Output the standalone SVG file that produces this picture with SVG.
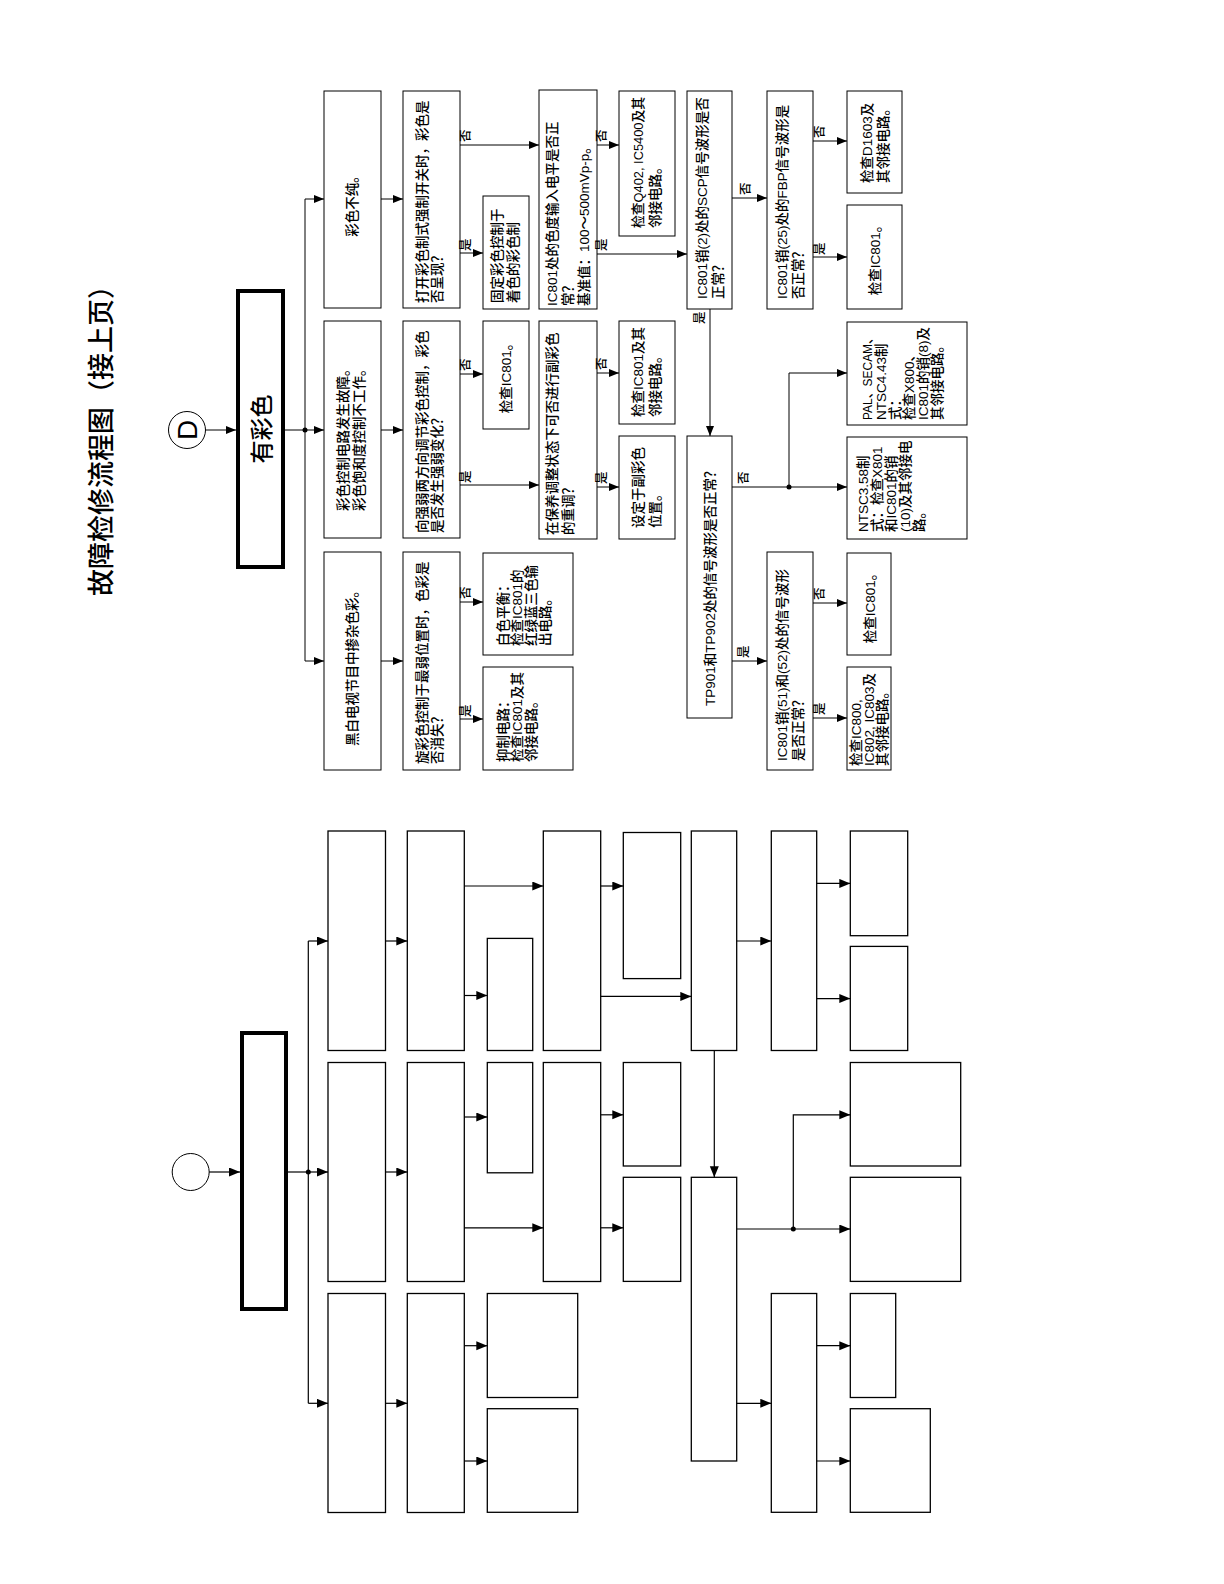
<svg xmlns="http://www.w3.org/2000/svg" width="1224" height="1584" viewBox="0 0 1224 1584">
<defs>
<marker id="ah" markerUnits="userSpaceOnUse" markerWidth="11" markerHeight="9" refX="10" refY="4" orient="auto"><path d="M0,0 L10,4 L0,8 z" fill="#000"/></marker>
<marker id="ah2" markerUnits="userSpaceOnUse" markerWidth="12" markerHeight="10" refX="11" refY="4.5" orient="auto"><path d="M0,0 L11,4.5 L0,9 z" fill="#000"/></marker>
</defs>
<style>
.b{fill:#fff;stroke:#000;stroke-width:1}
.bb{fill:#fff;stroke:#000;stroke-width:1.3}
.tk{fill:#fff;stroke:#000;stroke-width:4}
.t{font-family:"Liberation Sans","Noto Sans CJK SC",sans-serif;font-size:13.5px;font-weight:500;fill:#000}
.m{text-anchor:middle}
.l{font-family:"Liberation Sans","Noto Sans CJK SC",sans-serif;font-size:12.5px;font-weight:500;fill:#000}
.c{fill:none;stroke:#000;stroke-width:1}
.ca{fill:none;stroke:#000;stroke-width:1;marker-end:url(#ah)}
.c2{fill:none;stroke:#000;stroke-width:1.2}
.ca2{fill:none;stroke:#000;stroke-width:1.2;marker-end:url(#ah2)}
</style>
<rect width="1224" height="1584" fill="#fff"/>

<!-- title -->
<text id="title" transform="translate(111,434) rotate(-90)" text-anchor="middle" style="font-family:'Noto Sans CJK SC',sans-serif;font-size:27px;font-weight:500">故障检修流程图（接上页）</text>

<!-- ===== top flowchart nodes ===== -->
<g id="nD"><circle cx="187" cy="430" r="18.5" fill="#fff" stroke="#000" stroke-width="1"/><text transform="translate(197,430) rotate(-90)" text-anchor="middle" style="font-family:'Liberation Sans',sans-serif;font-size:28px">D</text></g>
<g id="nStart"><rect class="tk" x="238" y="291" width="45" height="276"/><text transform="translate(270,429) rotate(-90)" text-anchor="middle" style="font-family:'Noto Sans CJK SC',sans-serif;font-size:23px;font-weight:500">有彩色</text></g>

<g id="n1a"><rect class="b" x="324" y="91" width="57" height="217"/><text class="t m" transform="translate(357,203) rotate(-90)">彩色不纯。</text></g>
<g id="n1b"><rect class="b" x="324" y="321" width="57" height="217"/><text class="t" transform="translate(348,511) rotate(-90)"><tspan x="0">彩色控制电路发生故障。</tspan><tspan x="0" dy="16">彩色饱和度控制不工作。</tspan></text></g>
<g id="n1c"><rect class="b" x="324" y="552" width="57" height="218"/><text class="t m" transform="translate(357,665) rotate(-90)">黑白电视节目中掺杂色彩。</text></g>

<g id="n2a"><rect class="b" x="403" y="91" width="57" height="217"/><text class="t" transform="translate(427,303) rotate(-90)"><tspan x="0">打开彩色制式强制开关时，彩色是</tspan><tspan x="0" dy="15">否呈现？</tspan></text></g>
<g id="n2b"><rect class="b" x="403" y="321" width="57" height="217"/><text class="t" transform="translate(427,533) rotate(-90)"><tspan x="0">向强弱两方向调节彩色控制，彩色</tspan><tspan x="0" dy="15">是否发生强弱变化？</tspan></text></g>
<g id="n2c"><rect class="b" x="403" y="552" width="57" height="218"/><text class="t" transform="translate(427,764) rotate(-90)"><tspan x="0">旋彩色控制于最弱位置时，色彩是</tspan><tspan x="0" dy="15">否消失？</tspan></text></g>

<g id="n3a"><rect class="b" x="483" y="196" width="46" height="113"/><text class="t" transform="translate(502,303) rotate(-90)"><tspan x="0">固定彩色控制于</tspan><tspan x="0" dy="16">着色的彩色制</tspan></text></g>
<g id="n3b"><rect class="b" x="483" y="321" width="46" height="108"/><text class="t m" transform="translate(511,375) rotate(-90)">检查IC801。</text></g>
<g id="n3c"><rect class="b" x="483" y="553" width="90" height="102"/><text class="t" transform="translate(508,646) rotate(-90)"><tspan x="0">白色平衡：</tspan><tspan x="0" dy="14">检查IC801的</tspan><tspan x="0" dy="14">红绿蓝三色输</tspan><tspan x="0" dy="14">出电路。</tspan></text></g>
<g id="n3d"><rect class="b" x="483" y="667" width="90" height="103"/><text class="t" transform="translate(508,762) rotate(-90)"><tspan x="0">抑制电路：</tspan><tspan x="0" dy="14">检查IC801及其</tspan><tspan x="0" dy="14">邻接电路。</tspan></text></g>

<g id="n4a"><rect class="b" x="539" y="90" width="58" height="219"/><text class="t" transform="translate(557,306) rotate(-90)"><tspan x="0">IC801处的色度输入电平是否正</tspan><tspan x="0" dy="16">常？</tspan><tspan x="0" dy="16">基准值：100～500mVp-p。</tspan></text></g>
<g id="n4b"><rect class="b" x="539" y="321" width="58" height="218"/><text class="t" transform="translate(557,535) rotate(-90)"><tspan x="0">在保养调整状态下可否进行副彩色</tspan><tspan x="0" dy="16">的重调？</tspan></text></g>

<g id="n5a"><rect class="b" x="619" y="91" width="56" height="145"/><text class="t" transform="translate(643,228) rotate(-90)"><tspan x="0" textLength="131" lengthAdjust="spacingAndGlyphs">检查Q402, IC5400及其</tspan><tspan x="0" dy="17">邻接电路。</tspan></text></g>
<g id="n5b"><rect class="b" x="619" y="321" width="56" height="103"/><text class="t" transform="translate(643,417) rotate(-90)"><tspan x="0">检查IC801及其</tspan><tspan x="0" dy="17">邻接电路。</tspan></text></g>
<g id="n5c"><rect class="b" x="619" y="436" width="56" height="103"/><text class="t" transform="translate(643,528) rotate(-90)"><tspan x="0">设定于副彩色</tspan><tspan x="0" dy="17">位置。</tspan></text></g>

<g id="n6a"><rect class="b" x="687" y="91" width="45" height="218"/><text class="t" transform="translate(707,299) rotate(-90)"><tspan x="0">IC801销(2)处的SCP信号波形是否</tspan><tspan x="0" dy="16">正常？</tspan></text></g>
<g id="n6b"><rect class="b" x="687" y="436" width="45" height="282"/><text class="t" transform="translate(715,706) rotate(-90)">TP901和TP902处的信号波形是否正常？</text></g>

<g id="n7a"><rect class="b" x="767" y="91" width="46" height="218"/><text class="t" transform="translate(787,299) rotate(-90)"><tspan x="0">IC801销(25)处的FBP信号波形是</tspan><tspan x="0" dy="16">否正常？</tspan></text></g>
<g id="n7b"><rect class="b" x="767" y="552" width="46" height="218"/><text class="t" transform="translate(787,761) rotate(-90)"><tspan x="0">IC801销(51)和(52)处的信号波形</tspan><tspan x="0" dy="16">是否正常？</tspan></text></g>

<g id="n8a"><rect class="b" x="847" y="91" width="55" height="102"/><text class="t" transform="translate(872,183) rotate(-90)"><tspan x="0">检查D1603及</tspan><tspan x="0" dy="16">其邻接电路。</tspan></text></g>
<g id="n8b"><rect class="b" x="847" y="205" width="55" height="104"/><text class="t m" transform="translate(880,257) rotate(-90)">检查IC801。</text></g>
<g id="n8c"><rect class="b" x="847" y="322" width="120" height="103"/><text class="t" transform="translate(872,420) rotate(-90)"><tspan x="0" textLength="88" lengthAdjust="spacingAndGlyphs">PAL、SECAM、</tspan><tspan x="0" dy="14">NTSC4.43制</tspan><tspan x="0" dy="14">式：</tspan><tspan x="0" dy="14">检查X800、</tspan><tspan x="0" dy="14" textLength="93" lengthAdjust="spacingAndGlyphs">IC801的销(8)及</tspan><tspan x="0" dy="14">其邻接电路。</tspan></text></g>
<g id="n8d"><rect class="b" x="847" y="437" width="120" height="102"/><text class="t" transform="translate(868,532) rotate(-90)"><tspan x="0">NTSC3.58制</tspan><tspan x="0" dy="14">式：检查X801</tspan><tspan x="0" dy="14">和IC801的销</tspan><tspan x="0" dy="14">(10)及其邻接电</tspan><tspan x="0" dy="14">路。</tspan></text></g>
<g id="n8e"><rect class="b" x="847" y="553" width="44" height="102"/><text class="t m" transform="translate(875,605) rotate(-90)">检查IC801。</text></g>
<g id="n8f"><rect class="b" x="847" y="667" width="44" height="103"/><text class="t" transform="translate(861,766) rotate(-90)"><tspan x="0">检查IC800,</tspan><tspan x="0" dy="13">IC802, IC803及</tspan><tspan x="0" dy="13">其邻接电路。</tspan></text></g>

<!-- ===== top connectors ===== -->
<g id="connectors-top">
<line class="ca" x1="205.5" y1="430" x2="236" y2="430"/>
<line class="c" x1="285" y1="430" x2="305" y2="430"/>
<circle cx="305" cy="430" r="2.5" fill="#000"/>
<line class="c" x1="305" y1="199" x2="305" y2="661"/>
<line class="ca" x1="305" y1="199" x2="324" y2="199"/>
<line class="ca" x1="305" y1="430" x2="324" y2="430"/>
<line class="ca" x1="305" y1="661" x2="324" y2="661"/>
<line class="ca" x1="381" y1="199" x2="403" y2="199"/>
<line class="ca" x1="381" y1="430" x2="403" y2="430"/>
<line class="ca" x1="381" y1="661" x2="403" y2="661"/>
<line class="ca" x1="460" y1="145" x2="539" y2="145"/>
<line class="ca" x1="460" y1="253" x2="483" y2="253"/>
<line class="ca" x1="460" y1="374" x2="483" y2="374"/>
<line class="ca" x1="460" y1="485" x2="539" y2="485"/>
<line class="ca" x1="460" y1="602" x2="483" y2="602"/>
<line class="ca" x1="460" y1="719" x2="483" y2="719"/>
<line class="ca" x1="597" y1="145" x2="619" y2="145"/>
<line class="ca" x1="597" y1="254" x2="687" y2="254"/>
<line class="ca" x1="597" y1="373" x2="619" y2="373"/>
<line class="ca" x1="597" y1="487" x2="619" y2="487"/>
<line class="ca" x1="732" y1="198" x2="767" y2="198"/>
<line class="ca" x1="710" y1="309" x2="710" y2="436"/>
<line class="ca" x1="732" y1="487" x2="847" y2="487"/>
<circle cx="789" cy="487" r="2.5" fill="#000"/>
<polyline class="ca" points="789,487 789,373 847,373"/>
<line class="ca" x1="732" y1="661" x2="767" y2="661"/>
<line class="ca" x1="813" y1="141" x2="847" y2="141"/>
<line class="ca" x1="813" y1="257" x2="847" y2="257"/>
<line class="ca" x1="813" y1="603" x2="847" y2="603"/>
<line class="ca" x1="813" y1="718" x2="847" y2="718"/>
<!-- yes/no labels -->
<text class="l" transform="translate(470,142) rotate(-90)">否</text>
<text class="l" transform="translate(470,251) rotate(-90)">是</text>
<text class="l" transform="translate(470,371) rotate(-90)">否</text>
<text class="l" transform="translate(470,483) rotate(-90)">是</text>
<text class="l" transform="translate(470,599) rotate(-90)">否</text>
<text class="l" transform="translate(470,717) rotate(-90)">是</text>
<text class="l" transform="translate(606,142) rotate(-90)">否</text>
<text class="l" transform="translate(606,251) rotate(-90)">是</text>
<text class="l" transform="translate(606,370) rotate(-90)">否</text>
<text class="l" transform="translate(606,484) rotate(-90)">是</text>
<text class="l" transform="translate(750,195) rotate(-90)">否</text>
<text class="l" transform="translate(704,324) rotate(-90)">是</text>
<text class="l" transform="translate(748,484) rotate(-90)">否</text>
<text class="l" transform="translate(748,658) rotate(-90)">是</text>
<text class="l" transform="translate(824,138) rotate(-90)">否</text>
<text class="l" transform="translate(824,255) rotate(-90)">是</text>
<text class="l" transform="translate(824,600) rotate(-90)">否</text>
<text class="l" transform="translate(824,715) rotate(-90)">是</text>
</g>

<!-- ===== bottom (blank) flowchart nodes ===== -->
<g id="bD"><circle cx="190.7" cy="1172" r="18.5" fill="#fff" stroke="#000" stroke-width="1"/></g>
<g id="bStart"><rect class="tk" x="242" y="1033" width="44" height="276"/></g>
<g id="b1a"><rect class="bb" x="328" y="831" width="57.5" height="219.5"/></g>
<g id="b1b"><rect class="bb" x="328" y="1062.5" width="57.5" height="219"/></g>
<g id="b1c"><rect class="bb" x="328" y="1293.5" width="57.5" height="219"/></g>
<g id="b2a"><rect class="bb" x="407.3" y="831" width="57" height="219.5"/></g>
<g id="b2b"><rect class="bb" x="407.3" y="1062.5" width="57" height="219"/></g>
<g id="b2c"><rect class="bb" x="407.3" y="1293.5" width="57" height="219"/></g>
<g id="b3a"><rect class="bb" x="487.3" y="938.4" width="45.4" height="112.1"/></g>
<g id="b3b"><rect class="bb" x="487.3" y="1062.5" width="45.4" height="110.3"/></g>
<g id="b3c"><rect class="bb" x="487.3" y="1293.5" width="90.4" height="104"/></g>
<g id="b3d"><rect class="bb" x="487.3" y="1408.7" width="90.4" height="103.6"/></g>
<g id="b4a"><rect class="bb" x="543.3" y="831" width="57.4" height="219.5"/></g>
<g id="b4b"><rect class="bb" x="543.3" y="1062.5" width="57.4" height="219"/></g>
<g id="b5a"><rect class="bb" x="623.3" y="832.5" width="57.4" height="146.1"/></g>
<g id="b5b"><rect class="bb" x="623.3" y="1062.5" width="57.4" height="103.5"/></g>
<g id="b5c"><rect class="bb" x="623.3" y="1177.3" width="57.4" height="104.1"/></g>
<g id="b6a"><rect class="bb" x="691.3" y="831" width="45.4" height="219.5"/></g>
<g id="b6b"><rect class="bb" x="691.3" y="1177.3" width="45.4" height="283.7"/></g>
<g id="b7a"><rect class="bb" x="771.3" y="831" width="45.4" height="219.5"/></g>
<g id="b7b"><rect class="bb" x="771.3" y="1293.5" width="45.4" height="218.8"/></g>
<g id="b8a"><rect class="bb" x="850.3" y="831" width="57.4" height="104.7"/></g>
<g id="b8b"><rect class="bb" x="850.3" y="946.4" width="57.4" height="104.1"/></g>
<g id="b8c"><rect class="bb" x="850.3" y="1062.5" width="110.4" height="103.5"/></g>
<g id="b8d"><rect class="bb" x="850.3" y="1177.3" width="110.4" height="104.1"/></g>
<g id="b8e"><rect class="bb" x="850.3" y="1293.5" width="45.4" height="104"/></g>
<g id="b8f"><rect class="bb" x="850.3" y="1408.7" width="80" height="103.6"/></g>

<!-- ===== bottom connectors ===== -->
<g id="connectors-bottom">
<line class="ca2" x1="209.2" y1="1172" x2="240" y2="1172"/>
<line class="c2" x1="288" y1="1172" x2="308.3" y2="1172"/>
<circle cx="308.3" cy="1172" r="2.5" fill="#000"/>
<line class="c2" x1="308.3" y1="941" x2="308.3" y2="1403.3"/>
<line class="ca2" x1="308.3" y1="941" x2="328" y2="941"/>
<line class="ca2" x1="308.3" y1="1172" x2="328" y2="1172"/>
<line class="ca2" x1="308.3" y1="1403.3" x2="328" y2="1403.3"/>
<line class="ca2" x1="385.5" y1="941" x2="407.3" y2="941"/>
<line class="ca2" x1="385.5" y1="1172" x2="407.3" y2="1172"/>
<line class="ca2" x1="385.5" y1="1403.3" x2="407.3" y2="1403.3"/>
<line class="ca2" x1="464.3" y1="886" x2="543.3" y2="886"/>
<line class="ca2" x1="464.3" y1="995.5" x2="487.3" y2="995.5"/>
<line class="ca2" x1="464.3" y1="1117" x2="487.3" y2="1117"/>
<line class="ca2" x1="464.3" y1="1227.8" x2="543.3" y2="1227.8"/>
<line class="ca2" x1="464.3" y1="1345.7" x2="487.3" y2="1345.7"/>
<line class="ca2" x1="464.3" y1="1461" x2="487.3" y2="1461"/>
<line class="ca2" x1="600.7" y1="886" x2="623.3" y2="886"/>
<line class="ca2" x1="600.7" y1="996.4" x2="691.3" y2="996.4"/>
<line class="ca2" x1="600.7" y1="1114.8" x2="623.3" y2="1114.8"/>
<line class="ca2" x1="600.7" y1="1227.8" x2="623.3" y2="1227.8"/>
<line class="ca2" x1="736.7" y1="941" x2="771.3" y2="941"/>
<line class="ca2" x1="714.3" y1="1050.5" x2="714.3" y2="1177.3"/>
<line class="ca2" x1="736.7" y1="1229" x2="850.3" y2="1229"/>
<circle cx="793.3" cy="1229" r="2.5" fill="#000"/>
<polyline class="ca2" points="793.3,1229 793.3,1114.8 850.3,1114.8"/>
<line class="ca2" x1="736.7" y1="1403.3" x2="771.3" y2="1403.3"/>
<line class="ca2" x1="816.7" y1="883.4" x2="850.3" y2="883.4"/>
<line class="ca2" x1="816.7" y1="998.6" x2="850.3" y2="998.6"/>
<line class="ca2" x1="816.7" y1="1345.7" x2="850.3" y2="1345.7"/>
<line class="ca2" x1="816.7" y1="1461" x2="850.3" y2="1461"/>
</g>
</svg>
